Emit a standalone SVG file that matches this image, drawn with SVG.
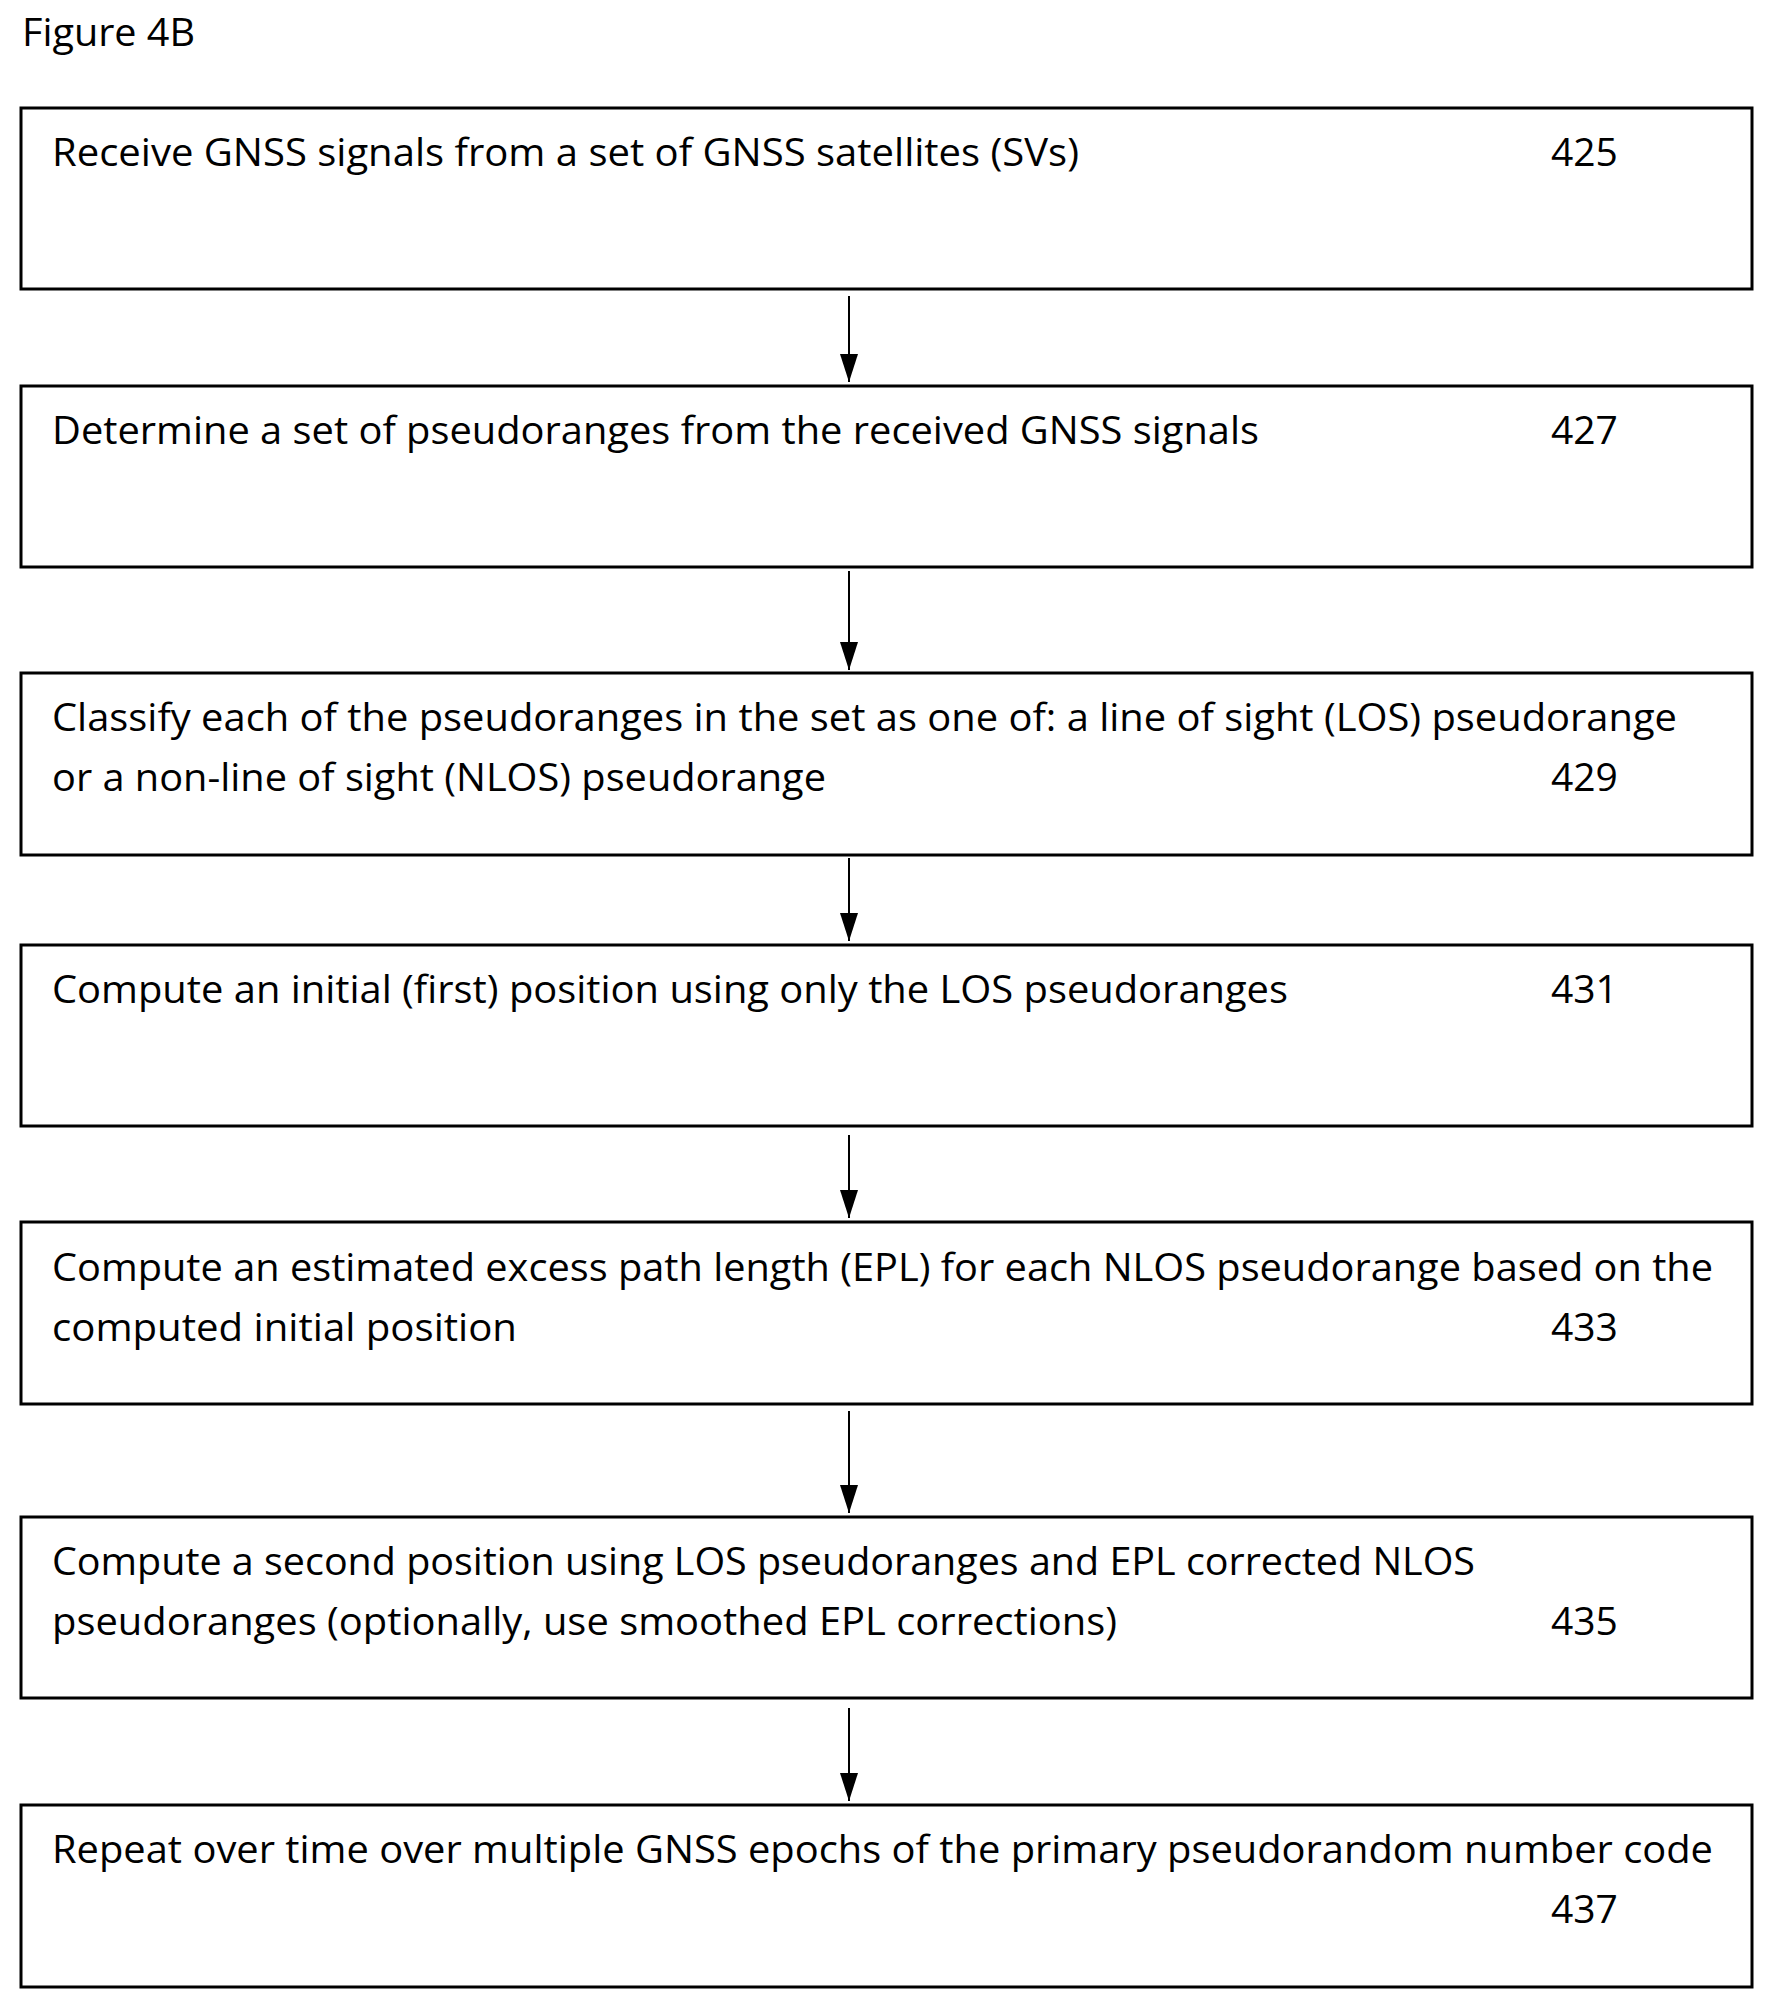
<svg xmlns="http://www.w3.org/2000/svg" width="1774" height="2008" viewBox="0 0 1774 2008">
<style>
.b{fill:#fff;stroke:#000;stroke-width:3}
text{font-family:"Open Sans","Liberation Sans",sans-serif;font-size:39px;fill:#000}
.c{stroke:#000;stroke-width:2;marker-end:url(#a)}
</style>
<defs><marker id="a" viewBox="0 0 28 18" refX="28" refY="9" markerWidth="28" markerHeight="18" markerUnits="userSpaceOnUse" orient="auto"><path d="M0,0L28,9L0,18z"/></marker></defs>
<rect width="1774" height="2008" fill="#fff"/>
<text x="22" y="46" textLength="173" lengthAdjust="spacingAndGlyphs">Figure 4B</text>
<g id="n425"><rect class="b" x="21" y="108" width="1731" height="181"/><text x="52" y="166" textLength="1027" lengthAdjust="spacingAndGlyphs">Receive GNSS signals from a set of GNSS satellites (SVs)</text><text x="1551" y="166">425</text></g>
<g id="n427"><rect class="b" x="21" y="386" width="1731" height="181"/><text x="52" y="444" textLength="1207" lengthAdjust="spacingAndGlyphs">Determine a set of pseudoranges from the received GNSS signals</text><text x="1551" y="444">427</text></g>
<g id="n429"><rect class="b" x="21" y="673" width="1731" height="182"/><text x="52" y="731" textLength="1625" lengthAdjust="spacingAndGlyphs">Classify each of the pseudoranges in the set as one of: a line of sight (LOS) pseudorange</text><text x="52" y="791" textLength="774" lengthAdjust="spacingAndGlyphs">or a non-line of sight (NLOS) pseudorange</text><text x="1551" y="791">429</text></g>
<g id="n431"><rect class="b" x="21" y="945" width="1731" height="181"/><text x="52" y="1003" textLength="1236" lengthAdjust="spacingAndGlyphs">Compute an initial (first) position using only the LOS pseudoranges</text><text x="1551" y="1003">431</text></g>
<g id="n433"><rect class="b" x="21" y="1222" width="1731" height="182"/><text x="52" y="1281" textLength="1661" lengthAdjust="spacingAndGlyphs">Compute an estimated excess path length (EPL) for each NLOS pseudorange based on the</text><text x="52" y="1341" textLength="465" lengthAdjust="spacingAndGlyphs">computed initial position</text><text x="1551" y="1341">433</text></g>
<g id="n435"><rect class="b" x="21" y="1517" width="1731" height="181"/><text x="52" y="1575" textLength="1423" lengthAdjust="spacingAndGlyphs">Compute a second position using LOS pseudoranges and EPL corrected NLOS</text><text x="52" y="1635" textLength="1065" lengthAdjust="spacingAndGlyphs">pseudoranges (optionally, use smoothed EPL corrections)</text><text x="1551" y="1635">435</text></g>
<g id="n437"><rect class="b" x="21" y="1805" width="1731" height="182"/><text x="52" y="1863" textLength="1661" lengthAdjust="spacingAndGlyphs">Repeat over time over multiple GNSS epochs of the primary pseudorandom number code</text><text x="1551" y="1923">437</text></g>
<g id="connectors">
<line class="c" x1="849" y1="296" x2="849" y2="382"/>
<line class="c" x1="849" y1="571" x2="849" y2="670"/>
<line class="c" x1="849" y1="858" x2="849" y2="941"/>
<line class="c" x1="849" y1="1135" x2="849" y2="1218"/>
<line class="c" x1="849" y1="1411" x2="849" y2="1513"/>
<line class="c" x1="849" y1="1708" x2="849" y2="1801"/>
</g>
</svg>
